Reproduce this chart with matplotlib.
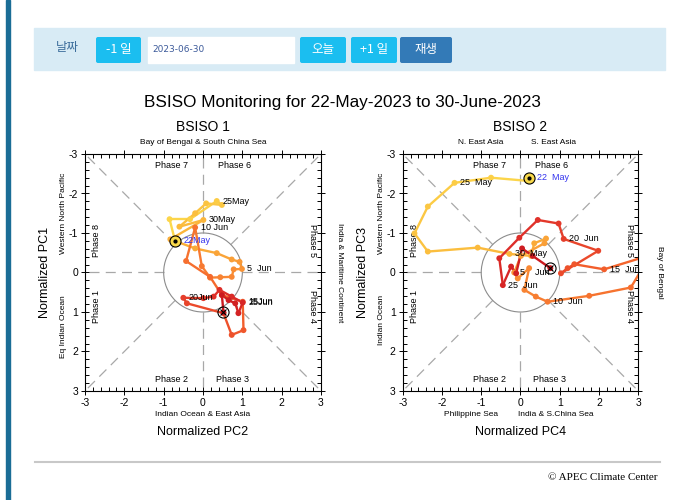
import numpy as np
import matplotlib.pyplot as plt
from matplotlib.patches import Rectangle, FancyBboxPatch, Circle
from matplotlib.colors import LinearSegmentedColormap

# BSISO 1 : x = PC2, y = PC1 (22 May .. 30 Jun 2023)
pc2 = [-0.71, -0.85, -0.33, 0.35, 0.48, 0.08, -0.20, -0.60, 0.01, -0.83,
       -0.20, 0.35, 0.73, 0.93, 0.99, 0.78, 0.73, 0.44, 0.18, -0.03,
       -0.20, -0.43, 0.18, 0.48, 1.01, 1.03, 0.73, 0.52, -0.41, -0.50,
       0.01, 0.27, 0.42, 0.73, 1.01, 0.90, 0.82, 0.65, 0.48, 0.52]
pc1 = [-0.80, -1.35, -1.35, -1.81, -1.71, -1.75, -1.50, -1.16, -1.33, -0.84,
       -0.61, -0.49, -0.33, -0.27, -0.09, -0.08, 0.11, 0.12, 0.13, -0.16,
       -1.14, -0.29, 0.11, 0.57, 0.74, 1.46, 1.58, 1.03, 0.78, 0.64,
       0.65, 0.61, 0.44, 0.61, 0.76, 1.03, 0.78, 0.70, 0.57, 1.01]

# BSISO 2 : x = PC4, y = PC3
pc4 = [0.22, 0.18, -0.75, -1.68, -2.36, -2.70, -2.36, -1.09, -0.28, 0.27,
       0.35, 0.65, 0.61, 0.01, -0.16, -0.07, 0.22, 0.10, 0.39, 0.69,
       1.75, 2.81, 3.25, 3.50, 2.13, 1.37, 1.20, 1.03, 1.98, 1.10,
       0.97, 0.44, -0.03, -0.54, -0.45, -0.24, -0.11, 0.04, 0.31, 0.76]
pc3 = [-2.40, -2.32, -2.40, -2.27, -1.67, -0.99, -0.53, -0.63, -0.47, -0.42,
       -0.74, -0.86, -0.74, -0.42, 0.00, 0.15, -0.11, 0.44, 0.61, 0.74,
       0.59, 0.38, -0.35, -0.50, -0.08, -0.21, -0.11, 0.02, -0.55, -0.85,
       -1.24, -1.33, -0.88, -0.36, 0.32, -0.15, 0.02, -0.61, -0.42, -0.11]

labels1 = {3: '25May', 8: '30May', 14: '5  Jun', 20: '10 Jun', 24: '15Jun',
           29: '20Jun', 34: '25Jun'}
labels2 = {3: '25  May', 8: '30  May', 14: '5    Jun', 19: '10  Jun',
           24: '15  Jun', 29: '20  Jun', 34: '25  Jun'}
start1, start2 = '22May', '22  May'

phases = ['Phase 1', 'Phase 2', 'Phase 3', 'Phase 4',
          'Phase 5', 'Phase 6', 'Phase 7', 'Phase 8']

W, H = 682, 500
plt.rcParams['font.family'] = ['Liberation Sans', 'DejaVu Sans']
plt.rcParams['axes.unicode_minus'] = False
fig = plt.figure(figsize=(W / 100, H / 100), dpi=100)

# page background in pixel units
bg = fig.add_axes([0, 0, 1, 1])
bg.set_xlim(0, W)
bg.set_ylim(H, 0)
bg.axis('off')
bg.add_patch(Rectangle((6, 0), 4, H, color='#1a6d96'))
bg.add_patch(Rectangle((34, 28), 631, 42, color='#d8ebf5'))
kr = ['Noto Sans CJK KR', 'DejaVu Sans']
bg.text(67, 48, '날짜', family=kr, fontsize=9, color='#3d6e9c', ha='center', va='center')
for x0, x1, txt, c in [(96, 141, '-1 일', '#1bbef0'), (300, 346, '오늘', '#1bbef0'),
                       (351, 397, '+1 일', '#1bbef0'), (400, 452, '재생', '#337ab7')]:
    bg.add_patch(FancyBboxPatch((x0, 37), x1 - x0, 26, boxstyle='round,pad=0,rounding_size=2',
                                color=c, lw=0))
    bg.text((x0 + x1) / 2, 49.5, txt, family=kr, fontsize=9, color='white',
            ha='center', va='center')
bg.add_patch(Rectangle((148, 37), 146, 26, color='white'))
bg.text(152, 49.5, '2023-06-30', fontsize=6.5, color='#3c5a9a', va='center',
        family='DejaVu Sans')
bg.text(342, 102, 'BSISO Monitoring for 22-May-2023 to 30-June-2023',
        fontsize=12.3, ha='center', va='center')
bg.plot([35, 660], [462, 462], color='#c8c8c8', lw=1.5)
bg.text(657, 477, '\u00a9 APEC Climate Center', family='Liberation Serif',
        fontsize=8, ha='right', va='center')

cmap = LinearSegmentedColormap.from_list(
    'bsiso', ['#fcd94c', '#fbb63a', '#f98a34', '#f4622c', '#e0302a', '#c8161e'])
cols = cmap(np.linspace(0, 1, len(pc2)))


def draw(ax, xs, ys, labels, start, texts):
    ax.set_xlim(-3, 3)
    ax.set_ylim(3, -3)
    ax.set_xticks(range(-3, 4))
    ax.set_yticks(range(-3, 4))
    ax.set_xticks(np.arange(-3, 3.01, 0.2), minor=True)
    ax.set_yticks(np.arange(-3, 3.01, 0.2), minor=True)
    ax.tick_params(which='both', top=True, right=True, labelsize=7.5, width=0.7)
    ax.tick_params(which='major', direction='inout', length=6, pad=2)
    ax.tick_params(which='minor', direction='in', length=3)
    for s in ax.spines.values():
        s.set_linewidth(0.8)
    for a in np.arange(0, 360, 45):
        c, s = np.cos(np.radians(a)), np.sin(np.radians(a))
        ax.plot([c, 4.3 * c], [s, 4.3 * s], color='#a8a8a8', lw=0.9,
                ls=(0, (8, 5)), zorder=1)
    ax.add_patch(Circle((0, 0), 1, fill=False, ec='#8c8c8c', lw=0.8, zorder=1))
    # phase labels
    ph = [(-2.7, 0.85, 90), (-0.8, 2.72, 0), (0.75, 2.72, 0), (2.78, 0.85, 270),
          (2.78, -0.8, 270), (0.8, -2.72, 0), (-0.8, -2.72, 0), (-2.7, -0.8, 90)]
    for (px, py, rot), t in zip(ph, phases):
        ax.text(px, py, t, rotation=rot, fontsize=6.5, ha='center', va='center')
    for i in range(len(xs) - 1):
        ax.plot(xs[i:i + 2], ys[i:i + 2], color=cols[i], lw=1.7, zorder=3)
    ax.scatter(xs, ys, s=18, c=cols, zorder=4, lw=0)
    ax.plot(xs[0], ys[0], 'o', ms=8, mfc='#f8d84a', mec='black', mew=0.8, zorder=5)
    ax.plot(xs[0], ys[0], 'o', ms=2, color='black', zorder=6)
    ax.plot(xs[-1], ys[-1], 'o', ms=8, mfc='none', mec='black', mew=0.8, zorder=5)
    ax.plot(xs[-1], ys[-1], 'x', ms=5, color='black', mew=0.8, zorder=6)
    ax.annotate(start, (xs[0], ys[0]), xytext=(6, 0), textcoords='offset points',
                fontsize=6.5, color='#3333ee', va='center', zorder=7)
    for i, t in labels.items():
        ax.annotate(t, (xs[i], ys[i]), xytext=(4, 0), textcoords='offset points',
                    fontsize=6.5, va='center', zorder=7)
    for x, y, t, kw in texts:
        ax.text(x, y, t, transform=ax.transAxes, **kw)


small = dict(fontsize=6, ha='center', va='center')
big = dict(fontsize=9, ha='center', va='center')
ttl = dict(fontsize=10, ha='center', va='center')

axL = fig.add_axes([85 / W, 1 - 391 / H, 236 / W, 237 / H])
draw(axL, pc2, pc1, labels1, start1, [
    (0.5, 1.112, 'BSISO 1', ttl),
    (0.5, 1.05, 'Bay of Bengal & South China Sea', small),
    (0.5, -0.10, 'Indian Ocean & East Asia', small),
    (0.5, -0.175, 'Normalized PC2', big),
    (-0.17, 0.5, 'Normalized PC1', dict(big, rotation=90)),
    (-0.09, 0.27, 'Eq Indian Ocean', dict(small, rotation=90)),
    (-0.09, 0.75, 'Western North Pacific', dict(small, rotation=90)),
    (1.08, 0.5, 'India & Maritime Continent', dict(small, rotation=270)),
])

axR = fig.add_axes([402.7 / W, 1 - 391 / H, 235.6 / W, 237 / H])
draw(axR, pc4, pc3, labels2, start2, [
    (0.5, 1.112, 'BSISO 2', ttl),
    (0.33, 1.05, 'N. East Asia', small),
    (0.64, 1.05, 'S. East Asia', small),
    (0.29, -0.10, 'Philippine Sea', small),
    (0.65, -0.10, 'India & S.China Sea', small),
    (0.5, -0.175, 'Normalized PC4', big),
    (-0.17, 0.5, 'Normalized PC3', dict(big, rotation=90)),
    (-0.09, 0.3, 'Indian Ocean', dict(small, rotation=90)),
    (-0.09, 0.75, 'Western North Pacific', dict(small, rotation=90)),
    (1.09, 0.5, 'Bay of Bengal', dict(small, rotation=270)),
])

fig.savefig('out.png', dpi=100)
